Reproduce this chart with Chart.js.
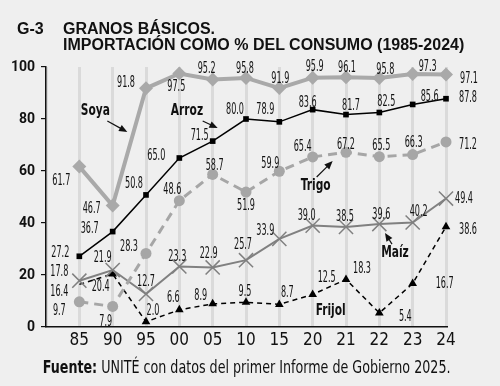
<!DOCTYPE html>
<html>
<head>
<meta charset="utf-8">
<script src="https://cdn.jsdelivr.net/npm/chart.js@4/dist/chart.umd.min.js"></script>
<style>
  html, body { margin: 0; padding: 0; background: #efefef; }
  #wrap { position: relative; width: 500px; height: 386px; overflow: hidden; }
  canvas { position: absolute; left: 0; top: 0; }
  .title { position: absolute; font-family: "Liberation Sans", Arial, sans-serif; font-weight: bold; font-size: 16px; line-height: 16px; color: #111; }
  #source { position: absolute; left: 0; width: 494px; top: 357px; text-align: center; }
  #source span { display: inline-block; transform: scaleX(0.83); transform-origin: center; white-space: nowrap; font-family: "DejaVu Sans Condensed", sans-serif; font-size: 17px; color: #111; }
</style>
</head>
<body>
<div id="wrap">
  <canvas id="chart" width="500" height="386"></canvas>
  <div class="title" style="left:17px; top:21px;">G-3</div>
  <div class="title" style="left:63px; top:21px;">GRANOS BÁSICOS.<br>IMPORTACIÓN COMO % DEL CONSUMO (1985-2024)</div>
  <div id="source"><span><b>Fuente:</b> UNITÉ con datos del primer Informe de Gobierno 2025.</span></div>
</div>
<script>
const years = ['85', '90', '95', '00', '05', '10', '15', '20', '21', '22', '23', '24']
const soya = [61.7, 46.7, 91.8, 97.5, 95.2, 95.8, 91.9, 95.9, 96.1, 95.8, 97.3, 97.1]
const arroz = [27.2, 36.7, 50.8, 65.0, 71.5, 80.0, 78.9, 83.6, 81.7, 82.5, 85.6, 87.8]
const trigo = [9.7, 7.9, 28.3, 48.6, 58.7, 51.9, 59.9, 65.4, 67.2, 65.5, 66.3, 71.2]
const maiz = [17.8, 21.9, 12.7, 23.3, 22.9, 25.7, 33.9, 39.0, 38.5, 39.6, 40.2, 49.4]
const frijol = [16.4, 20.4, 2.0, 6.6, 8.9, 9.5, 8.7, 12.5, 18.3, 5.4, 16.7, 38.6]
const yTicks = [0, 20, 40, 60, 80, 100]

// label offsets (px) from each point
const soyaOff = [[-18,15],[-21,4],[-20,-5],[-3,14],[-6,-10],[-1,-9],[1,-9],[2,-11],[1,-9],[6,-8],[15,-7],[23,5]]
const arrozOff = [[-19,-3],[-23,-2],[-12,-11],[-23,-2],[-13,-5],[-11,-9],[-14,-12],[-5,-7],[5,-8],[7,-10],[17,-7],[22,-1]]
const trigoOff = [[-20,9],[-7,16],[-17,-6],[-7,-11],[2,-8],[0,14],[-9,-7],[-10,-10],[0,-7],[2,-11],[1,-12],[22,3]]
const maizOff = [[-20,-9],[-10,-12],[0,-12],[-2,-9],[-4,-13],[-3,-15],[-14,-8],[-6,-9],[-1,-10],[2,-9],[6,-10],[18,1]]
const frijolOff = [[-20,8],[-12,13],[7,-11],[-6,-12],[-12,-8],[-1,-10],[8,-11],[14,-16],[16,-10],[26,4],[32,1],[22,3]]

// series names with arrows, in data coords
const names = [
  { text: 'Soya', at: [0.48, 83.1], from: [0.84, 79.2], to: [1.44, 75.0] },
  { text: 'Arroz', at: [3.23, 83.1], from: [3.70, 79.2], to: [4.15, 76.5] },
  { text: 'Trigo', at: [7.09, 54.2], from: [7.12, 57.7], to: [7.60, 63.8] },
  { text: 'Maíz', at: [9.47, 28.5], from: [9.38, 31.9], to: [9.17, 36.2] },
  { text: 'Frijol', at: [7.54, 6.2] }
]

const NARROW = '"DejaVu Sans Condensed", sans-serif'

function pts(arr) {
  return arr.map((v, i) => ({ x: i, y: v }))
}

function squeezed(ctx, text, x, y, sx) {
  ctx.save()
  ctx.translate(x, y)
  ctx.scale(sx, 1)
  ctx.fillText(text, 0, 0)
  ctx.restore()
}

const valueLabels = {
  id: 'valueLabels',
  afterDatasetsDraw(chart) {
    const ctx = chart.ctx
    ctx.save()
    ctx.fillStyle = '#111'
    ctx.font = '15px ' + NARROW
    ctx.textAlign = 'center'
    ctx.textBaseline = 'middle'
    chart.data.datasets.forEach((ds, di) => {
      const meta = chart.getDatasetMeta(di)
      meta.data.forEach((el, i) => {
        const off = ds.labelOffsets[i]
        squeezed(ctx, ds.data[i].y.toFixed(1), el.x + off[0], el.y + off[1], 0.6)
      })
    })

    const xs = chart.scales.x, ys = chart.scales.y
    ctx.font = 'bold 16px ' + NARROW
    names.forEach(n => {
      squeezed(ctx, n.text, xs.getPixelForValue(n.at[0]), ys.getPixelForValue(n.at[1]), 0.74)
      if (!n.from) return
      const x1 = xs.getPixelForValue(n.from[0]), y1 = ys.getPixelForValue(n.from[1])
      const x2 = xs.getPixelForValue(n.to[0]), y2 = ys.getPixelForValue(n.to[1])
      const a = Math.atan2(y2 - y1, x2 - x1)
      ctx.strokeStyle = '#111'
      ctx.lineWidth = 1.2
      ctx.beginPath()
      ctx.moveTo(x1, y1)
      ctx.lineTo(x2 - 6 * Math.cos(a), y2 - 6 * Math.sin(a))
      ctx.stroke()
      ctx.beginPath()
      ctx.moveTo(x2, y2)
      ctx.lineTo(x2 - 9 * Math.cos(a - 0.4), y2 - 9 * Math.sin(a - 0.4))
      ctx.lineTo(x2 - 9 * Math.cos(a + 0.4), y2 - 9 * Math.sin(a + 0.4))
      ctx.closePath()
      ctx.fill()
    })
    ctx.restore()
  }
}

new Chart(document.getElementById('chart'), {
  type: 'line',
  data: {
    datasets: [
      {
        label: 'Soya', data: pts(soya), labelOffsets: soyaOff,
        borderColor: '#a9a9a9', backgroundColor: '#a9a9a9', borderWidth: 4,
        pointStyle: 'rectRot', pointRadius: 7, pointBorderWidth: 0
      },
      {
        label: 'Arroz', data: pts(arroz), labelOffsets: arrozOff,
        borderColor: '#000', backgroundColor: '#000', borderWidth: 1.5,
        pointStyle: 'rect', pointRadius: 4, pointBorderWidth: 0
      },
      {
        label: 'Trigo', data: pts(trigo), labelOffsets: trigoOff,
        borderColor: '#a6a6a6', backgroundColor: '#a6a6a6', borderWidth: 3, borderDash: [9, 6],
        pointStyle: 'circle', pointRadius: 5.5, pointBorderWidth: 0
      },
      {
        label: 'Maíz', data: pts(maiz), labelOffsets: maizOff,
        borderColor: '#808080', backgroundColor: '#808080', borderWidth: 2,
        pointStyle: 'crossRot', pointRadius: 10, pointBorderWidth: 1.5
      },
      {
        label: 'Frijol', data: pts(frijol), labelOffsets: frijolOff,
        borderColor: '#000', backgroundColor: '#000', borderWidth: 1.5, borderDash: [5, 4],
        pointStyle: 'triangle', pointRadius: ctx => ctx.dataIndex === 0 ? 0 : 5, pointBorderWidth: 0
      }
    ]
  },
  options: {
    responsive: false,
    animation: false,
    clip: false,
    layout: { padding: { top: 67, right: 54, bottom: 29, left: 0 } },
    plugins: { legend: { display: false }, tooltip: { enabled: false } },
    elements: { line: { tension: 0 } },
    scales: {
      x: {
        type: 'linear', min: -1, max: 11,
        afterFit: s => { s.height = 30 },
        afterBuildTicks: s => { s.ticks = years.map((_, i) => ({ value: i })).concat([{ value: -1 }]) },
        ticks: {
          callback: v => years[v] ?? '',
          font: { family: NARROW, size: 17 }, color: '#111', padding: 3, maxRotation: 0, autoSkip: false
        },
        grid: { drawTicks: false, color: '#dadada', lineWidth: 3 },
        border: { color: '#111', width: 1.5 }
      },
      y: {
        min: 0, max: 100,
        afterFit: s => { s.width = 46 },
        afterBuildTicks: s => { s.ticks = yTicks.map(v => ({ value: v })) },
        ticks: { font: { family: 'Roboto, sans-serif', size: 14, weight: 'bold' }, color: '#111', padding: 6 },
        grid: { drawOnChartArea: false, drawTicks: true, tickLength: 5, color: '#111', lineWidth: 1.2 },
        border: { color: '#111', width: 1.5 }
      }
    }
  },
  plugins: [valueLabels]
})
</script>
</body>
</html>
